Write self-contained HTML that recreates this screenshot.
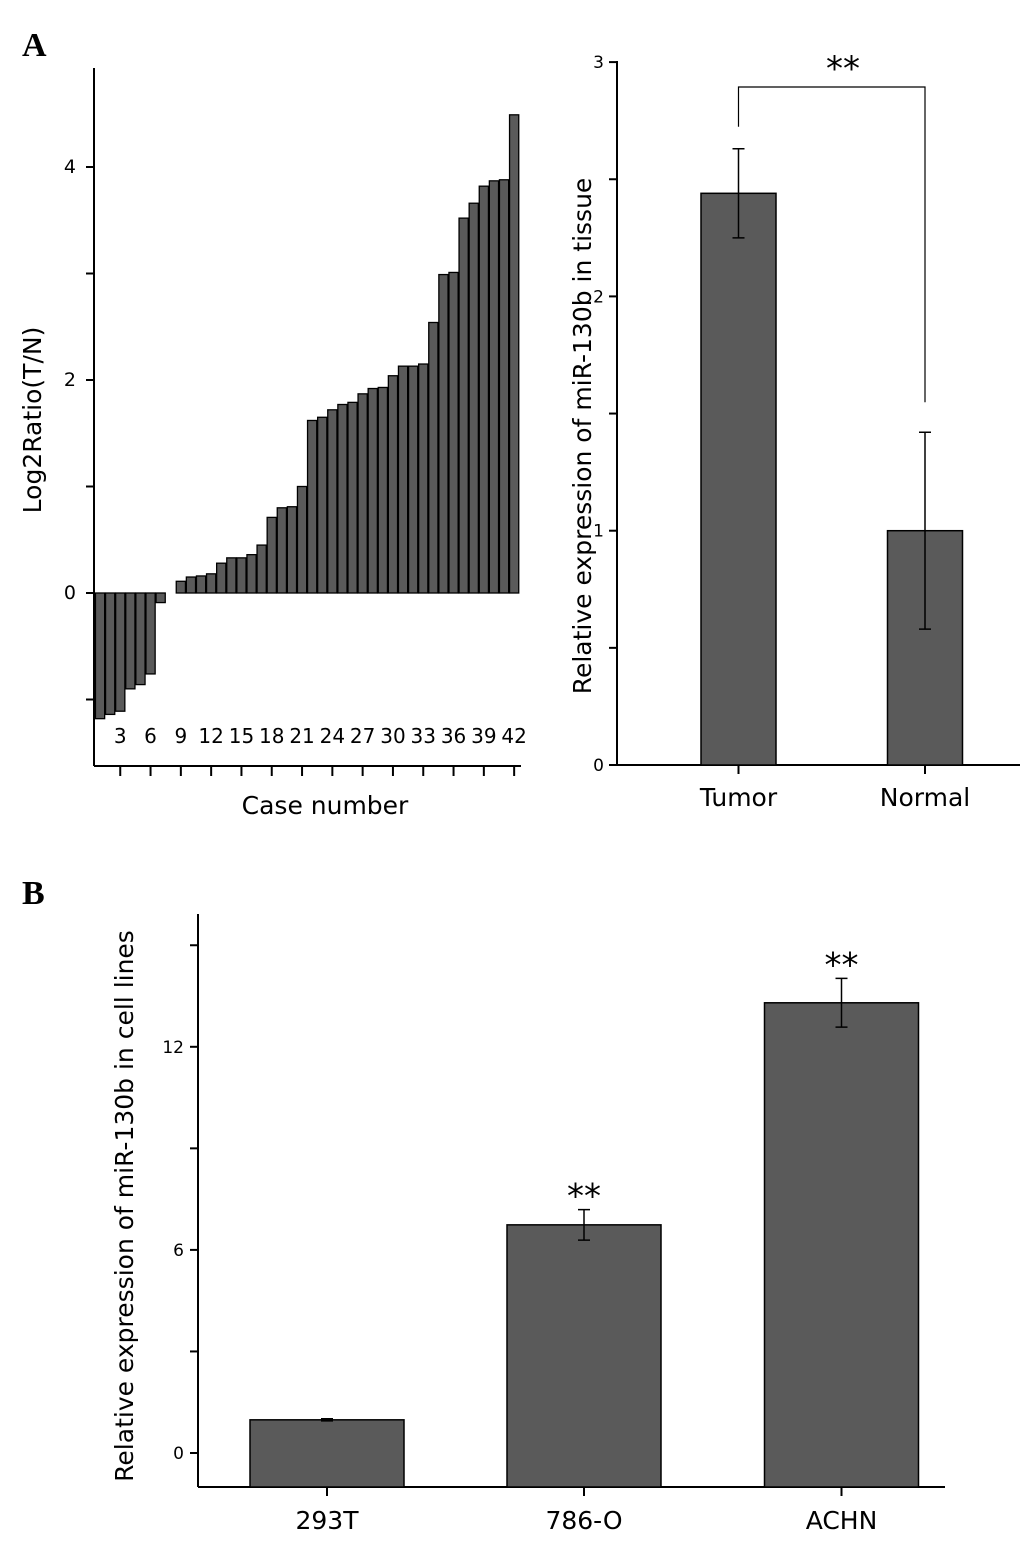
<!DOCTYPE html>
<html><head><meta charset="utf-8"><style>
html,body{margin:0;padding:0;background:#fff;}
svg{display:block;font-family:"DejaVu Sans","Liberation Sans",sans-serif;}
</style></head><body>
<svg id="fig" width="1033" height="1555" viewBox="0 0 1033 1555" xmlns="http://www.w3.org/2000/svg">
<text x="22" y="56" font-family="Liberation Serif,serif" font-weight="bold" font-size="34">A</text>
<text x="22" y="904" font-family="Liberation Serif,serif" font-weight="bold" font-size="34">B</text>
<g id="c1"></g>
<g id="c2"></g>
<g id="c3"></g>
</svg>
<script>
// Chart 1 data
const caseValues = [-1.18,-1.14,-1.11,-0.90,-0.86,-0.76,-0.09,0,0.11,0.15,0.16,0.18,0.28,0.33,0.33,0.36,0.45,0.71,0.80,0.81,1.00,1.62,1.65,1.72,1.77,1.79,1.87,1.92,1.93,2.04,2.13,2.13,2.15,2.54,2.99,3.01,3.52,3.66,3.82,3.87,3.88,4.49];
const caseTickLabels = ["3","6","9","12","15","18","21","24","27","30","33","36","39","42"];
const ratioTicks = [0,2,4];
// Chart 2 data
const tissueCats = ["Tumor","Normal"];
const tissueMeans = [2.44,1.00];
const tissueErr = [0.19,0.42];
const tissueTicks = [0,1,2,3];
// Chart 3 data
const cellCats = ["293T","786-O","ACHN"];
const cellMeans = [0.98,6.74,13.3];
const cellErr = [0.03,0.45,0.72];
const cellSig = ["","**","**"];
const cellTicks = [0,6,12];

const NS="http://www.w3.org/2000/svg";
function mk(parent,tag,attrs,text){const e=document.createElementNS(NS,tag);for(const k in attrs)e.setAttribute(k,attrs[k]);if(text!==undefined)e.textContent=text;parent.appendChild(e);return e;}
const FILL="#5a5a5a";

// ---------- Chart 1 ----------
(function(){
  const g=document.getElementById('c1');
  const x0=94, step=10.1, bw=9.2;
  const y=v=>593-v*106.5;
  const xc=i=>x0+1+step*(i+0.5);
  let e=mk(g,'line',{x1:x0,y1:68,x2:x0,y2:766,stroke:'#000','stroke-width':2});
  
  
  e=mk(g,'line',{x1:x0,y1:766,x2:521,y2:766,stroke:'#000','stroke-width':2});
  
  
  for(let v=-1;v<=4;v++){
    const t=mk(g,'line',{x1:x0-8,y1:y(v),x2:x0,y2:y(v),stroke:'#000','stroke-width':2});
    
    
  }
  ratioTicks.forEach(v=>{
    const t=mk(g,'text',{x:x0-18,y:y(v)+6,'text-anchor':'end','font-size':19},String(v));
    
    
  });
  caseValues.forEach((v,i)=>{
    if(v===0)return;
    const top=Math.min(y(v),y(0)), h=Math.abs(y(v)-y(0));
    const r=mk(g,'rect',{x:xc(i)-bw/2,y:top,width:bw,height:h,fill:FILL,stroke:'#000','stroke-width':1.3});
    
    
  });
  caseTickLabels.forEach(l=>{
    const i=parseInt(l)-1;
    const t=mk(g,'line',{x1:xc(i),y1:766,x2:xc(i),y2:776,stroke:'#000','stroke-width':2});
    
    
    const tx=mk(g,'text',{x:xc(i),y:743,'text-anchor':'middle','font-size':20},l);
    
    
  });
  e=mk(g,'text',{x:325,y:814,'text-anchor':'middle','font-size':25},'Case number');
  
  
  e=mk(g,'text',{x:0,y:0,'text-anchor':'middle','font-size':25,transform:'translate(41,420) rotate(-90)'},'Log2Ratio(T/N)');
  
  
})();

// ---------- Chart 2 ----------
(function(){
  const g=document.getElementById('c2');
  const ax=617, ay=765;
  const y=v=>ay-v*234.3;
  const centers=[738.5,925];
  const bw=75;
  let e=mk(g,'line',{x1:ax,y1:61,x2:ax,y2:ay,stroke:'#000','stroke-width':2});
  
  
  e=mk(g,'line',{x1:ax,y1:ay,x2:1020,y2:ay,stroke:'#000','stroke-width':2});
  
  
  for(let v=0;v<=3;v+=0.5){
    const t=mk(g,'line',{x1:ax-8,y1:y(v),x2:ax,y2:y(v),stroke:'#000','stroke-width':2});
    
    
  }
  tissueTicks.forEach(v=>{
    const t=mk(g,'text',{x:ax-13,y:y(v)+6,'text-anchor':'end','font-size':17},String(v));
    
    
  });
  tissueCats.forEach((c,i)=>{
    const cx=centers[i];
    const r=mk(g,'rect',{x:cx-bw/2,y:y(tissueMeans[i]),width:bw,height:y(0)-y(tissueMeans[i]),fill:FILL,stroke:'#000','stroke-width':1.5});
    
    
    const hi=y(tissueMeans[i]+tissueErr[i]), lo=y(tissueMeans[i]-tissueErr[i]);
    const eb=mk(g,'path',{d:`M${cx},${hi}V${lo}M${cx-6},${hi}H${cx+6}M${cx-6},${lo}H${cx+6}`,stroke:'#000','stroke-width':1.5,fill:'none'});
    
    
    const t=mk(g,'line',{x1:cx,y1:ay,x2:cx,y2:ay+9,stroke:'#000','stroke-width':2});
    
    
    const l=mk(g,'text',{x:cx,y:806,'text-anchor':'middle','font-size':25},c);
    
    
  });
  const by=87;
  e=mk(g,'path',{d:`M${centers[0]},${y(tissueMeans[0]+tissueErr[0])-22}V${by}H${centers[1]}V${y(tissueMeans[1]+tissueErr[1])-30}`,stroke:'#000','stroke-width':1.2,fill:'none'});
  
  
  e=mk(g,'text',{x:843,y:80,'text-anchor':'middle','font-size':34},'**');
  
  
  e=mk(g,'text',{x:0,y:0,'text-anchor':'middle','font-size':25,transform:'translate(591,436) rotate(-90)'},'Relative expression of miR-130b in tissue');
  
  
})();

// ---------- Chart 3 ----------
(function(){
  const g=document.getElementById('c3');
  const ax=198, ay=1487;
  const y=v=>1453-v*33.85;
  const centers=[327,584,841.5];
  const bw=154;
  let e=mk(g,'line',{x1:ax,y1:914,x2:ax,y2:ay,stroke:'#000','stroke-width':2});
  
  
  e=mk(g,'line',{x1:ax,y1:ay,x2:945,y2:ay,stroke:'#000','stroke-width':2});
  
  
  for(let v=0;v<=15;v+=3){
    const t=mk(g,'line',{x1:ax-8,y1:y(v),x2:ax,y2:y(v),stroke:'#000','stroke-width':2});
    
    
  }
  cellTicks.forEach(v=>{
    const t=mk(g,'text',{x:ax-14,y:y(v)+6,'text-anchor':'end','font-size':17},String(v));
    
    
  });
  cellCats.forEach((c,i)=>{
    const cx=centers[i];
    const r=mk(g,'rect',{x:cx-bw/2,y:y(cellMeans[i]),width:bw,height:ay-y(cellMeans[i]),fill:FILL,stroke:'#000','stroke-width':1.5});
    
    
    const hi=y(cellMeans[i]+cellErr[i]), lo=y(cellMeans[i]-cellErr[i]);
    const eb=mk(g,'path',{d:`M${cx},${hi}V${lo}M${cx-6},${hi}H${cx+6}M${cx-6},${lo}H${cx+6}`,stroke:'#000','stroke-width':1.5,fill:'none'});
    
    
    if(cellSig[i]){
      const s=mk(g,'text',{x:cx,y:hi-2,'text-anchor':'middle','font-size':34},cellSig[i]);
      
      
    }
    const t=mk(g,'line',{x1:cx,y1:ay,x2:cx,y2:ay+9,stroke:'#000','stroke-width':2});
    
    
    const l=mk(g,'text',{x:cx,y:1529,'text-anchor':'middle','font-size':25},c);
    
    
  });
  e=mk(g,'text',{x:0,y:0,'text-anchor':'middle','font-size':25,transform:'translate(133,1206) rotate(-90)'},'Relative expression of miR-130b in cell lines');
  
  
})();
</script>
</body></html>
